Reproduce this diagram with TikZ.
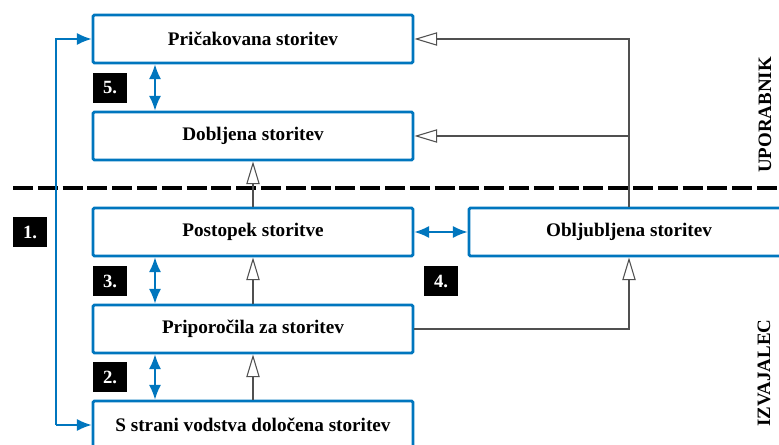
\documentclass[tikz,border=0pt]{standalone}
\usepackage{fontspec}
\setmainfont{Liberation Serif}
\usepackage{xcolor}
\usetikzlibrary{arrows.meta}

\definecolor{boxblue}{RGB}{0,118,190}
\definecolor{linegray}{RGB}{80,80,80}

\begin{document}
\begin{tikzpicture}[x=0.75pt,y=0.75pt,yscale=-1,xscale=1,
  box/.style={draw=boxblue, line width=2.2pt, rounded corners=1pt, fill=white,
    minimum width=240pt, minimum height=36pt, inner sep=0pt,
    font=\fontsize{14.4}{16}\selectfont\bfseries},
  numtag/.style={fill=black, text=white, minimum width=25pt, minimum height=22.5pt,
    inner sep=0pt, font=\fontsize{14}{16}\selectfont\bfseries},
  sidelabel/.style={rotate=90, inner sep=0pt, font=\fontsize{14.2}{16}\selectfont\bfseries},
  bluelink/.style={draw=boxblue, line width=1pt, -{Latex[length=11pt,width=9pt]}},
  bluedbl/.style={draw=boxblue, line width=1pt, {Latex[length=11pt,width=9pt]}-{Latex[length=11pt,width=9pt]}},
  graylink/.style={draw=linegray, line width=0.8pt, -{Triangle[open,length=17pt,width=10pt,line width=0.8pt]}},
  border/.style={black, line width=2.3pt, dash pattern=on 15pt off 3.6pt}]
\useasboundingbox (0,0) rectangle (779,445);

%Dashed line between user and provider
\draw [border] (13,188) -- (779,188);

% Text Node
\draw (253,39) node [box] (prick) {Pričakovana storitev};
% Text Node
\draw (253,136) node [box] (dobl) {Dobljena storitev};
% Text Node
\draw (253,232) node [box] (post) {Postopek storitve};
% Text Node
\draw (253,329) node [box] (pripo) {Priporočila za storitev};
% Text Node
\draw (253,425) node [box] (vods) {S strani vodstva določena storitev};
% Text Node
\draw (629,232) node [box] (oblj) {Obljubljena storitev};

% Side labels
\draw (765,115) node [sidelabel] (upor) {UPORABNIK};
\draw (764,373) node [sidelabel] (izv) {IZVAJALEC};

% Number tags
\draw (30,232) node [numtag] (tagA) {1.};
\draw (441,281) node [numtag] (tagD) {4.};
\draw (110,88) node [numtag] (tagE) {5.};
\draw (110,281) node [numtag] (tagC) {3.};
\draw (110,377) node [numtag] (tagB) {2.};

\coordinate (rail) at (56,0);
\coordinate (dbl) at (155,0);

%Blue links
\draw [bluelink] (vods.west -| rail) -- (prick.west -| rail) -- (prick.west);
\draw [bluelink] (vods.west -| rail) -- (vods.west);
\draw [bluedbl] (prick.south -| dbl) -- (dobl.north -| dbl);
\draw [bluedbl] (post.south -| dbl) -- (pripo.north -| dbl);
\draw [bluedbl] (pripo.south -| dbl) -- (vods.north -| dbl);
\draw [bluedbl] (post.east) -- (oblj.west);

%Gray links
\draw [graylink] (vods.north) -- (pripo.south);
\draw [graylink] (pripo.north) -- (post.south);
\draw [graylink] (post.north) -- (dobl.south);
\draw [graylink] (oblj.north) -- (oblj.north |- prick.east) -- (prick.east);
\draw [graylink] (oblj.north |- dobl.east) -- (dobl.east);
\draw [graylink] (pripo.east) -- (pripo.east -| oblj.south) -- (oblj.south);

\end{tikzpicture}
\end{document}
